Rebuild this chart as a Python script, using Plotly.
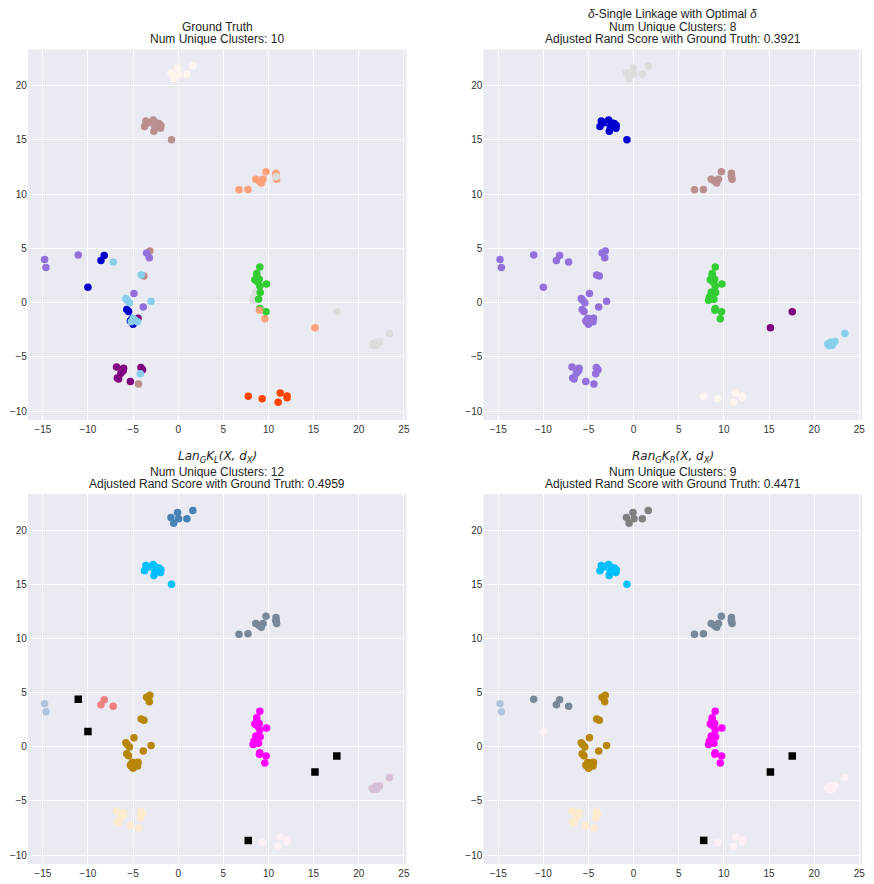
import plotly.graph_objects as go

W, H = 874, 884

# point coordinates, in drawing order
x = [
 -0.8,-0.07,0.04,-0.5,0.96,1.62,
 -3.58,-2.77,-3.73,-2.14,-1.92,-1.96,-2.6,-2.7,-3.3,-2.4,-0.74,
 6.74,7.73,8.59,9.2,9.4,8.95,9.72,10.83,10.83,10.9,
 -14.8,-14.65,-11.07,-8.2,-8.56,-7.2,-10.0,
 -3.14,-3.8,-3.5,-3.2,-4.9,-3.87,
 -5.7,-5.5,-5.1,-5.0,-5.3,-4.45,
 -5.8,-5.65,-5.4,-3.0,-4.1,-5.0,-5.2,-4.5,-4.8,
 -4.4,-6.83,-6.05,-6.1,-6.35,-6.75,-6.6,-5.3,-4.13,-3.95,-4.2,
 8.6,8.4,8.3,
 9.04,8.7,8.7,8.49,8.97,8.8,9.04,9.78,9.08,8.9,9.04,9.74,
 9.0,9.6,15.15,17.57,
 23.4,22.3,21.85,21.5,21.65,22.0,
 7.76,9.3,11.3,12.06,12.06,11.07,
 10.85,
]
y = [
 21.16,21.62,21.04,20.64,21.04,21.8,
 16.73,16.82,16.24,16.5,16.33,16.08,16.18,15.8,16.58,16.55,15.0,
 10.39,10.42,11.37,11.03,11.37,11.2,12.05,11.93,11.65,11.37,
 3.96,3.22,4.39,4.33,3.87,3.74,1.41,
 4.75,2.45,4.57,4.14,0.83,-0.4,
 -0.64,-0.83,-1.47,-2.0,-1.7,-1.44,
 0.37,0.2,-0.03,0.12,2.55,-1.47,-1.78,-1.78,-1.6,
 -7.5,-5.95,-6.07,-6.3,-6.53,-6.96,-7.05,-7.27,-5.98,-6.2,-6.56,
 0.98,0.52,0.2,
 3.28,2.67,2.45,2.09,2.15,1.9,1.53,1.72,0.92,0.31,-0.55,-0.86,
 -0.7,-1.5,-2.33,-0.86,
 -2.85,-3.6,-3.65,-3.83,-3.96,-3.93,
 -8.65,-8.86,-8.34,-8.62,-8.77,-9.2,
 11.6,
]

truth = (["seashell"]*6 + ["rosybrown"]*11 + ["lightsalmon"]*10
  + ["mediumpurple"]*3 + ["mediumblue"]*2 + ["skyblue"] + ["mediumblue"]
  + ["rosybrown"]*2 + ["mediumpurple"]*4
  + ["mediumblue"]*5 + ["purple"]
  + ["skyblue"]*9
  + ["rosybrown"] + ["purple"]*9 + ["skyblue"]
  + ["gainsboro"]*3 + ["limegreen"]*12
  + ["lightsalmon"]*3 + ["gainsboro"] + ["gainsboro"]*6
  + ["orangered"]*6 + ["gainsboro"])

single_linkage = (["gainsboro"]*6 + ["mediumblue"]*11 + ["rosybrown"]*10
  + ["mediumpurple"]*7 + ["mediumpurple"]*6 + ["mediumpurple"]*6
  + ["mediumpurple"]*9 + ["mediumpurple"]*11
  + ["limegreen"]*15 + ["limegreen"]*2 + ["purple"]*2
  + ["skyblue"]*6 + ["seashell"]*6 + ["rosybrown"])

lan = (["steelblue"]*6 + ["deepskyblue"]*11 + ["lightslategray"]*10
  + ["lightsteelblue"]*2 + ["noise"] + ["lightcoral"]*3 + ["noise"]
  + ["darkgoldenrod"]*6 + ["darkgoldenrod"]*6
  + ["darkgoldenrod"]*9 + ["blanchedalmond"]*11
  + ["magenta"]*15 + ["magenta"]*2 + ["noise"]*2
  + ["thistle"]*6 + ["noise"] + ["lavenderblush"]*5 + ["lightslategray"])

ran = (["gray"]*6 + ["deepskyblue"]*11 + ["lightslategray"]*10
  + ["lightsteelblue"]*2 + ["lightslategray"]*4 + ["lavenderblush"]
  + ["darkgoldenrod"]*6 + ["darkgoldenrod"]*6
  + ["darkgoldenrod"]*9 + ["blanchedalmond"]*11
  + ["magenta"]*15 + ["magenta"]*2 + ["noise"]*2
  + ["lavenderblush"]*6 + ["noise"] + ["lavenderblush"]*5 + ["lightslategray"])

panel_labels = [truth, single_linkage, lan, ran]

panel_titles = [
  ["Ground Truth", "Num Unique Clusters: 10"],
  ["<i>δ</i>-Single Linkage with Optimal <i>δ</i>", "Num Unique Clusters: 8",
   "Adjusted Rand Score with Ground Truth: 0.3921"],
  ["<i>Lan<sub>G</sub>K<sub>L</sub>(X, d<sub>X</sub>)</i>", "Num Unique Clusters: 12",
   "Adjusted Rand Score with Ground Truth: 0.4959"],
  ["<i>Ran<sub>G</sub>K<sub>R</sub>(X, d<sub>X</sub>)</i>", "Num Unique Clusters: 9",
   "Adjusted Rand Score with Ground Truth: 0.4471"],
]

x_ticks = [-15, -10, -5, 0, 5, 10, 15, 20, 25]
y_ticks = [-10, -5, 0, 5, 10, 15, 20]

# pixel frames: left, right, top, bottom
frames = [(28, 408, 49.5, 420), (485, 865, 49.5, 420),
          (28, 408, 494, 864), (485, 865, 494, 864)]
title_rows = [(None, 27, 39), (14, 27, 39), (457, 472, 484), (457, 472, 484)]

TEXT = "#262626"
SANS = "Liberation Sans, Arial, sans-serif"
MATH = "DejaVu Sans, sans-serif"
fig = go.Figure()
layout = dict(
    width=W, height=H, margin=dict(l=0, r=0, t=0, b=0), showlegend=False,
    paper_bgcolor="white", plot_bgcolor="#EAEAF2",
    font=dict(family=SANS, size=10, color="#333333"),
)
annotations = []
for i, (labels, fr, rows, lines) in enumerate(zip(panel_labels, frames, title_rows, panel_titles)):
    suffix = "" if i == 0 else str(i + 1)
    fig.add_trace(go.Scatter(
        x=x, y=y, mode="markers", xaxis="x" + suffix, yaxis="y" + suffix,
        marker=dict(
            size=[7.5 if c == "noise" else 7.5 for c in labels],
            color=["black" if c == "noise" else c for c in labels],
            symbol=["square" if c == "noise" else "circle" for c in labels],
            line=dict(width=0), opacity=1,
        ),
        hoverinfo="skip",
    ))
    l, r, t, b = fr
    layout["xaxis" + suffix] = dict(
        domain=[l / W, r / W], range=[-16.65, 25.3], tickvals=x_ticks,
        showgrid=True, gridcolor="white", gridwidth=1, zeroline=False, showline=False,
        ticks="", anchor="y" + suffix, tickfont=dict(size=10, color="#333333"),
        ticklabelstandoff=2,
    )
    layout["yaxis" + suffix] = dict(
        domain=[1 - b / H, 1 - t / H], range=[-10.83, 23.33], tickvals=y_ticks,
        showgrid=True, gridcolor="white", gridwidth=1, zeroline=False, showline=False,
        ticks="", anchor="x" + suffix, tickfont=dict(size=10, color="#333333"),
    )
    for j, (row_y, text) in enumerate(zip([v for v in rows if v is not None], lines)):
        is_math = "<i>" in text
        annotations.append(dict(
            x=(l + r) / 2 / W, y=1 - row_y / H, xref="paper", yref="paper",
            text=text, showarrow=False, xanchor="center", yanchor="middle",
            height=12, borderpad=0,
            font=dict(size=12, color=TEXT, family=SANS if i == 1 or not is_math else MATH),
        ))
layout["annotations"] = annotations
fig.update_layout(**layout)
fig.write_html("out.html", config={"displayModeBar": False},
               post_script="document.body.style.margin='0';")
